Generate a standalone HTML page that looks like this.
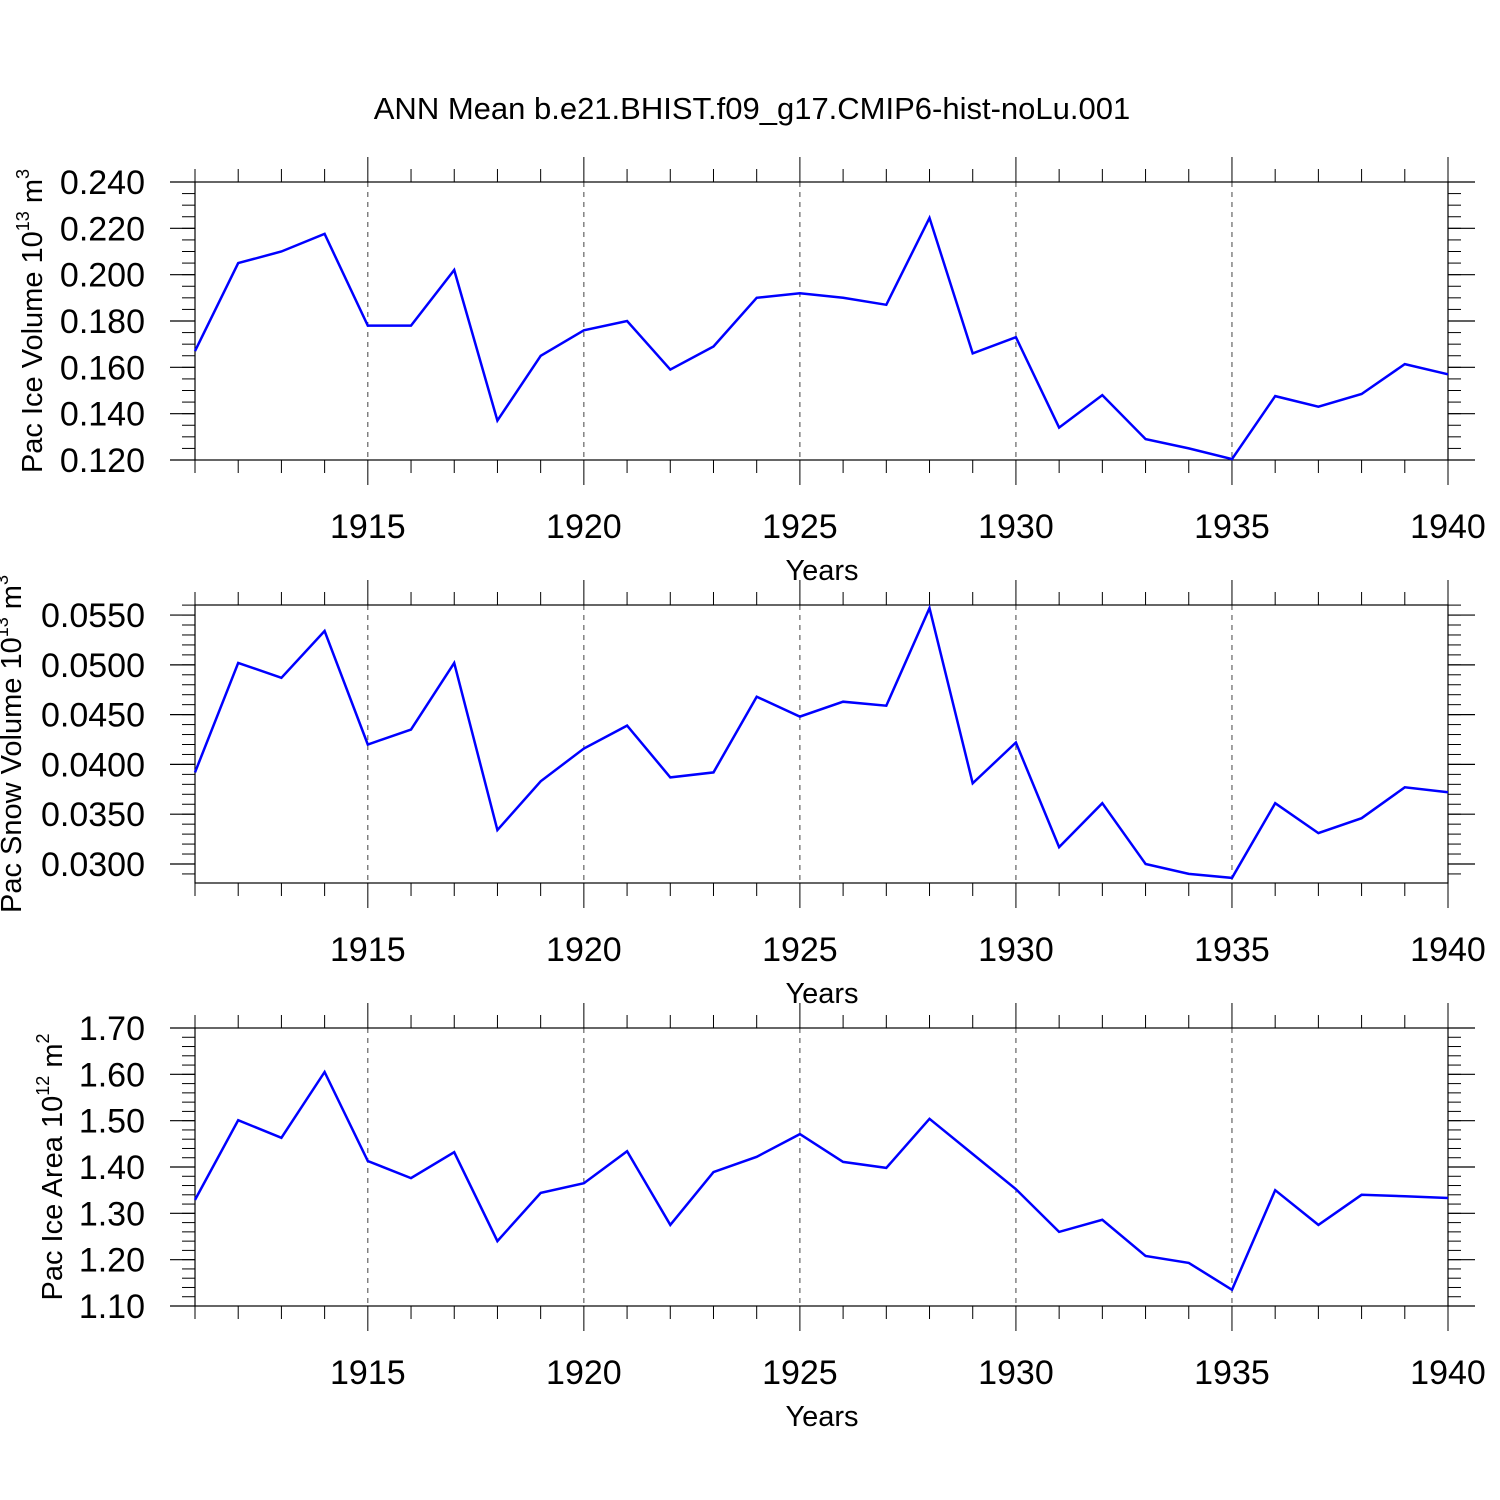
<!DOCTYPE html>
<html><head><meta charset="utf-8"><style>
html,body{margin:0;padding:0;background:#fff;}
svg{display:block;font-family:"Liberation Sans",Arial,sans-serif;}
</style></head><body>
<svg id="chart" width="1500" height="1500" viewBox="0 0 1500 1500" xmlns="http://www.w3.org/2000/svg">
<rect width="1500" height="1500" fill="#fff"/>
<text x="752" y="119" font-size="31" text-anchor="middle">ANN Mean b.e21.BHIST.f09_g17.CMIP6-hist-noLu.001</text>
</svg>
<script>
const years = [1911,1912,1913,1914,1915,1916,1917,1918,1919,1920,1921,1922,1923,1924,1925,1926,1927,1928,1929,1930,1931,1932,1933,1934,1935,1936,1937,1938,1939,1940];
const iceVolume = [0.167,0.205,0.210,0.2176,0.178,0.178,0.202,0.137,0.165,0.176,0.180,0.159,0.169,0.190,0.192,0.190,0.187,0.2245,0.166,0.173,0.134,0.148,0.129,0.125,0.1204,0.1476,0.143,0.1485,0.1614,0.157];
const snowVolume = [0.0392,0.0502,0.0487,0.0534,0.0420,0.0435,0.0502,0.0334,0.0383,0.0416,0.0439,0.0387,0.0392,0.0468,0.0448,0.0463,0.0459,0.0557,0.0381,0.0422,0.0317,0.0361,0.0300,0.0290,0.0286,0.0361,0.0331,0.0346,0.0377,0.0372];
const iceArea = [1.329,1.501,1.463,1.605,1.413,1.376,1.432,1.240,1.344,1.365,1.434,1.275,1.389,1.422,1.471,1.411,1.398,1.504,1.428,1.352,1.260,1.286,1.208,1.193,1.135,1.350,1.275,1.340,1.337,1.333];
const xTickLabels = ["1915","1920","1925","1930","1935","1940"];
const iceVolTicks = ["0.240","0.220","0.200","0.180","0.160","0.140","0.120"];
const snowTicks = ["0.0550","0.0500","0.0450","0.0400","0.0350","0.0300"];
const areaTicks = ["1.70","1.60","1.50","1.40","1.30","1.20","1.10"];

const svg = document.getElementById('chart');
const NS = 'http://www.w3.org/2000/svg';
function mk(tag, attrs, parent){const e=document.createElementNS(NS,tag);for(const k in attrs)e.setAttribute(k,attrs[k]);(parent||svg).appendChild(e);return e;}
const X0=195, X1=1448;
function xs(yr){return X0+(yr-years[0])/(years[years.length-1]-years[0])*(X1-X0);}

function panel(cfg){
  const g=mk('g',{});
  
  
  const ys=v=>cfg.top+(cfg.vmax-v)/(cfg.vmax-cfg.vmin)*(cfg.bot-cfg.top);
  xTickLabels.forEach(l=>{const yr=+l; if(yr<years[years.length-1]){
    const ln=mk('line',{x1:xs(yr),x2:xs(yr),y1:cfg.top,y2:cfg.bot,stroke:'#444','stroke-width':1,'stroke-dasharray':'5,5'},g);
    
    
  }});
  const box=mk('rect',{x:X0,y:cfg.top,width:X1-X0,height:cfg.bot-cfg.top,fill:'none',stroke:'#000','stroke-width':1.2},g);
  
  
  years.forEach(yr=>{
    const major=xTickLabels.includes(String(yr));
    const L=major?25:13, x=xs(yr);
    mk('line',{x1:x,x2:x,y1:cfg.bot,y2:cfg.bot+L,stroke:'#000','stroke-width':1},g);
    mk('line',{x1:x,x2:x,y1:cfg.top,y2:cfg.top-L,stroke:'#000','stroke-width':1},g);
  });
  xTickLabels.forEach(l=>{
    const t=mk('text',{x:xs(+l),y:cfg.bot+78,'font-size':34,'text-anchor':'middle'},g);
    t.textContent=l;
    
    
  });
  const xt=mk('text',{x:822,y:cfg.bot+120,'font-size':29,'text-anchor':'middle'},g);
  xt.textContent='Years';
  
  
  const vlo=cfg.vmin, vhi=cfg.vmax;
  const n0=Math.ceil(vlo/cfg.minor-1e-6), n1=Math.floor(vhi/cfg.minor+1e-6);
  for(let i=n0;i<=n1;i++){const y=ys(i*cfg.minor);
    mk('line',{x1:X0,x2:X0-13,y1:y,y2:y,stroke:'#000','stroke-width':1},g);
    mk('line',{x1:X1,x2:X1+13,y1:y,y2:y,stroke:'#000','stroke-width':1},g);}
  cfg.ticks.forEach(l=>{const y=ys(parseFloat(l));
    mk('line',{x1:X0,x2:X0-25,y1:y,y2:y,stroke:'#000','stroke-width':1.2},g);
    mk('line',{x1:X1,x2:X1+27,y1:y,y2:y,stroke:'#000','stroke-width':1.2},g);
    const t=mk('text',{x:145,y:y+12,'font-size':34,'text-anchor':'end'},g);
    t.textContent=l;
    
    
  });
  const yt=mk('text',{transform:`translate(${cfg.tx},${(cfg.top+cfg.bot)/2}) rotate(-90)`,'font-size':29,'text-anchor':'middle'},g);
  yt.innerHTML=cfg.title;
  
  
  const pts=cfg.data.map((v,i)=>xs(years[i]).toFixed(1)+','+ys(v).toFixed(1)).join(' ');
  const pl=mk('polyline',{points:pts,fill:'none',stroke:'#0000ff','stroke-width':2.5,'stroke-linejoin':'miter'},g);
  
  
}
panel({name:'ice-volume-panel',top:182,bot:460,vmin:0.120,vmax:0.240,minor:0.005,ticks:iceVolTicks,data:iceVolume,tx:42,
  title:'Pac Ice Volume 10<tspan dy="-13" font-size="18">13</tspan><tspan dy="13"> m</tspan><tspan dy="-13" font-size="18">3</tspan>'});
panel({name:'snow-volume-panel',top:605,bot:883,vmin:0.02809,vmax:0.05601,minor:0.001,ticks:snowTicks,data:snowVolume,tx:21,
  title:'Pac Snow Volume 10<tspan dy="-13" font-size="18">13</tspan><tspan dy="13"> m</tspan><tspan dy="-13" font-size="18">3</tspan>'});
panel({name:'ice-area-panel',top:1028,bot:1306,vmin:1.10,vmax:1.70,minor:0.02,ticks:areaTicks,data:iceArea,tx:62,
  title:'Pac Ice Area 10<tspan dy="-13" font-size="18">12</tspan><tspan dy="13"> m</tspan><tspan dy="-13" font-size="18">2</tspan>'});
</script>
</body></html>
